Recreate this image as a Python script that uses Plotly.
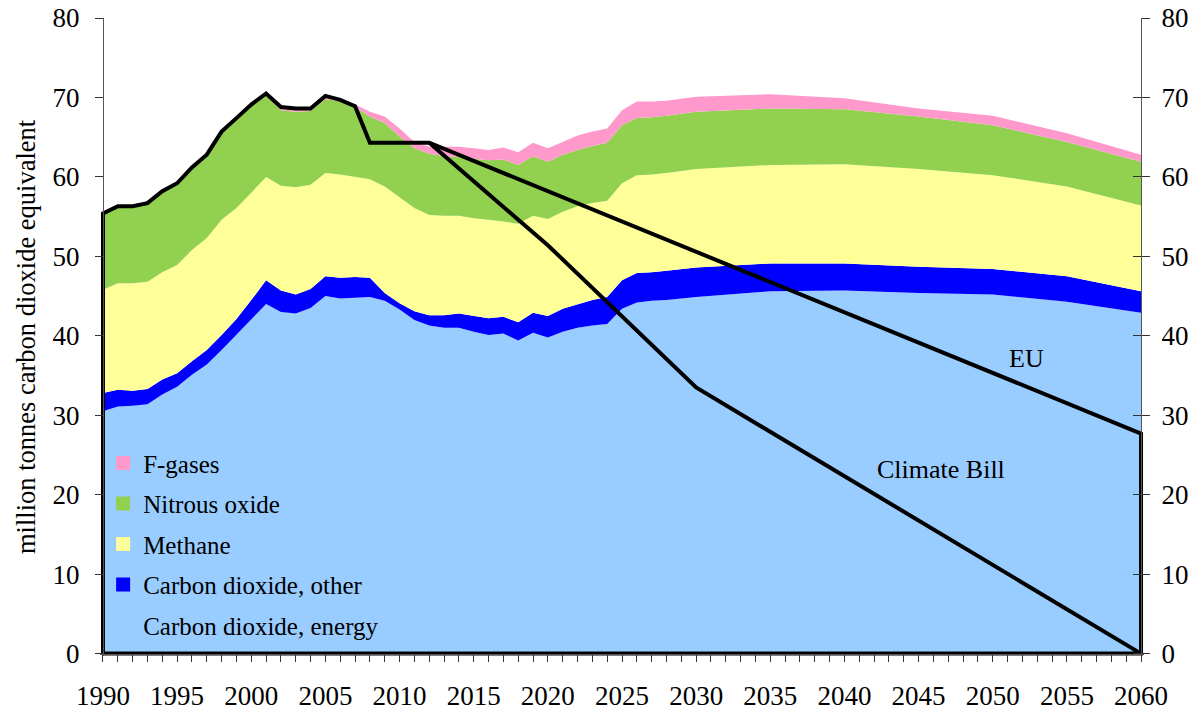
import plotly.graph_objects as go

# ---------------- data ----------------
years = list(range(1990, 2029)) + [2030, 2035, 2040, 2045, 2050, 2055, 2060]

co2_energy = [30.5, 31.1, 31.2, 31.4, 32.6, 33.6, 35.1, 36.4, 38.2, 40.1,
              42.0, 44.0, 43.0, 42.8, 43.5, 45.0, 44.7, 44.8, 44.9, 44.4,
              43.3, 42.0, 41.3, 41.0, 41.0, 40.5, 40.1, 40.3, 39.4, 40.4,
              39.8, 40.5, 41.0, 41.3, 41.5, 43.4, 44.2, 44.4, 44.5,
              44.9, 45.6, 45.7, 45.4, 45.2, 44.3, 42.9]
co2_other = [2.3, 2.1, 1.9, 1.9, 1.9, 1.7, 1.7, 1.8, 1.9, 2.0,
             2.5, 3.0, 2.7, 2.4, 2.4, 2.5, 2.6, 2.6, 2.4, 1.0,
             0.8, 1.1, 1.3, 1.6, 1.8, 2.0, 2.1, 2.1, 2.3, 2.5,
             2.7, 2.9, 3.0, 3.2, 3.4, 3.6, 3.7, 3.6, 3.7,
             3.7, 3.5, 3.4, 3.3, 3.2, 3.2, 2.7]
methane = [13.0, 13.4, 13.5, 13.5, 13.5, 13.6, 14.0, 14.1, 14.5, 14.0,
           13.5, 13.0, 13.2, 13.5, 13.1, 13.0, 13.0, 12.6, 12.4, 13.4,
           13.4, 13.0, 12.6, 12.5, 12.3, 12.3, 12.4, 12.0, 12.4, 12.2,
           12.2, 12.2, 12.3, 12.2, 12.1, 12.2, 12.3, 12.3, 12.3,
           12.4, 12.4, 12.5, 12.3, 11.8, 11.3, 10.8]
nitrous_oxide = [9.5, 9.6, 9.6, 9.8, 10.1, 10.2, 10.3, 10.3, 10.9, 11.1,
                 10.9, 10.2, 9.5, 9.5, 9.3, 9.3, 9.2, 8.8, 7.9, 8.0,
                 7.6, 7.5, 7.7, 7.5, 7.4, 7.5, 7.5, 7.8, 7.4, 7.5,
                 7.2, 7.2, 7.1, 7.2, 7.3, 7.3, 7.2, 7.2, 7.2,
                 7.2, 7.1, 6.9, 6.6, 6.3, 5.6, 5.5]
f_gases = [0.1, 0.1, 0.1, 0.1, 0.1, 0.1, 0.1, 0.2, 0.2, 0.2,
           0.2, 0.3, 0.3, 0.3, 0.3, 0.3, 0.4, 0.3, 0.6, 0.8,
           1.0, 0.8, 0.9, 1.2, 1.3, 1.3, 1.3, 1.5, 1.6, 1.7,
           1.7, 1.6, 1.8, 1.8, 1.8, 1.9, 2.1, 2.0, 1.9,
           1.9, 1.8, 1.4, 1.0, 1.2, 1.1, 0.9]

hist_years = [1990, 1991, 1992, 1993, 1994, 1995, 1996, 1997, 1998, 1999,
              2000, 2001, 2002, 2003, 2004, 2005, 2006, 2007, 2008, 2012]
hist_total = [55.4, 56.3, 56.3, 56.7, 58.2, 59.2, 61.2, 62.8, 65.7, 67.4,
              69.1, 70.5, 68.8, 68.6, 68.6, 70.2, 69.7, 68.9, 64.3, 64.3]

eu_years = [2012, 2060]
eu_target = [64.3, 27.7]
bill_years = [2012, 2020, 2030, 2060]
bill_target = [64.3, 51.4, 33.5, 0.0]

series_names = ["Carbon dioxide, energy", "Carbon dioxide, other", "Methane",
                "Nitrous oxide", "F-gases"]
series_values = [co2_energy, co2_other, methane, nitrous_oxide, f_gases]
series_colors = ["#99CCFF", "#0000FF", "#FFFF99", "#92D050", "#FF99CC"]

x_ticks = list(range(1990, 2061, 5))
y_ticks = list(range(0, 81, 10))

FONT = "Liberation Serif, Times New Roman, serif"
X0, X1 = 1989.8, 2060.2
Y0, Y1 = -0.3, 80

fig = go.Figure()

for name, vals, col in zip(series_names, series_values, series_colors):
    fig.add_trace(go.Scatter(x=years, y=vals, name=name, stackgroup="one",
                             mode="lines", line=dict(width=0, color=col),
                             fillcolor=col, showlegend=False,
                             hoverinfo="x+y+name"))

# outline: 1990 edge, history, EU target, 2060 edge, baseline
out_x = [hist_years[0]] + hist_years + eu_years[1:] + [eu_years[-1], hist_years[0]]
out_y = [0] + hist_total + eu_target[1:] + [0, 0]
fig.add_trace(go.Scatter(x=out_x, y=out_y, mode="lines", showlegend=False,
                         line=dict(color="black", width=4)))
fig.add_trace(go.Scatter(x=bill_years, y=bill_target, mode="lines", showlegend=False,
                         line=dict(color="black", width=4)))

# legend entries (square swatches)
for name, col in zip(series_names[::-1], series_colors[::-1]):
    fig.add_trace(go.Scatter(x=[None], y=[None], mode="markers", name=name,
                             legendgroup=name,
                             marker=dict(symbol="square", size=14, color=col)))

fig.add_trace(go.Scatter(x=[None], y=[None], yaxis="y2", showlegend=False))
fig.add_trace(go.Scatter(x=[None], y=[None], yaxis="y3", showlegend=False))

axis_font = dict(family=FONT, size=27, color="black")
fig.update_layout(
    width=1202, height=712,
    margin=dict(l=100, r=58, t=18, b=56, autoexpand=False),
    paper_bgcolor="white", plot_bgcolor="white",
    showlegend=True,
    legend=dict(x=0.003, y=0.338, xanchor="left", yanchor="top",
                bgcolor="rgba(0,0,0,0)", borderwidth=0,
                font=dict(family=FONT, size=25, color="black"),
                traceorder="grouped", tracegroupgap=5),
    xaxis=dict(range=[X0, X1], anchor="free", position=(0 - Y0) / (Y1 - Y0),
               automargin=False,
               tickmode="array", tickvals=x_ticks, ticks="outside", ticklen=7,
               tickcolor="#333", showline=True, linecolor="#555", linewidth=1,
               showgrid=False, zeroline=False, tickfont=axis_font,
               ticklabelstandoff=11,
               minor=dict(dtick=1, tick0=1990, ticks="outside", ticklen=7,
                          tickcolor="#333", showgrid=False)),
    yaxis=dict(range=[Y0, Y1], anchor="free", position=(1990 - X0) / (X1 - X0),
               automargin=False,
               side="left", tickmode="array", tickvals=y_ticks, ticks="outside",
               ticklen=8, tickcolor="#333", showline=True, linecolor="#555",
               showgrid=False, zeroline=False, tickfont=axis_font,
               ticklabelstandoff=10),
    yaxis2=dict(range=[Y0, Y1], anchor="free", overlaying="y", automargin=False,
                position=(2060 - X0) / (X1 - X0), side="right",
                tickmode="array", tickvals=y_ticks, ticks="outside", ticklen=8,
                tickcolor="#333", showline=True, linecolor="#555",
                showgrid=False, zeroline=False, tickfont=axis_font,
                ticklabelstandoff=6),
    yaxis3=dict(range=[Y0, Y1], anchor="free", overlaying="y", automargin=False,
                position=(2060 - X0) / (X1 - X0), side="right",
                tickmode="array", tickvals=y_ticks, ticks="inside", ticklen=8,
                tickcolor="#333", showline=False, showticklabels=False,
                showgrid=False, zeroline=False),
    annotations=[
        dict(text="million tonnes carbon dioxide equivalent", xref="paper",
             yref="paper", x=(26 - 100) / 1044, y=0.5, textangle=-90,
             xanchor="center", yanchor="middle", showarrow=False,
             font=dict(family=FONT, size=26.5, color="black")),
        dict(text="EU", x=2052.3, y=37.1, xref="x", yref="y", showarrow=False,
             font=dict(family=FONT, size=26, color="black")),
        dict(text="Climate Bill", x=2046.5, y=23.2, xref="x", yref="y",
             showarrow=False, font=dict(family=FONT, size=26, color="black")),
    ],
)

fig.write_html("out.html", include_plotlyjs=True,
               config={"displayModeBar": False},
               post_script="document.body.style.margin='0';")
